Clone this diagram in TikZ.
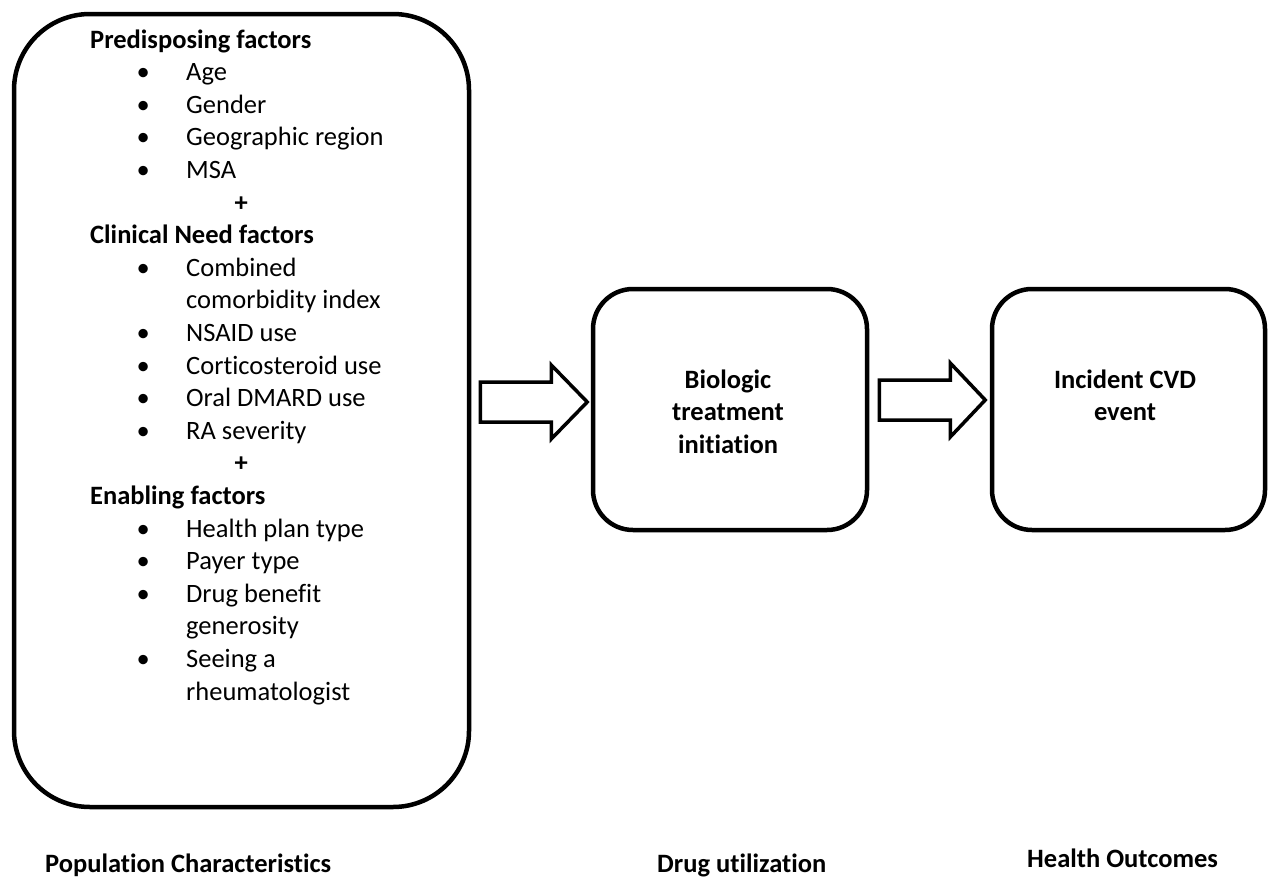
\documentclass[tikz,border=0pt]{standalone}
\usepackage{fontspec}
\setmainfont{Carlito}[Ligatures=NoCommon]

% list helpers for the factor list
\newcommand\lbul[1]{\makebox[96pt][l]{\hspace*{53pt}\makebox[0pt]{\textbullet}}#1\par}
\newcommand\lcont[1]{\hspace*{96pt}#1\par}
\newcommand\lplus{\hspace*{151pt}\makebox[0pt]{\textbf{+}}\par}

\tikzset{
  stagebox/.style={draw, line width=4.5pt, rectangle, inner sep=0pt},
  blockarrow/.style={draw, line width=3.5pt, line join=miter},
  txt/.style={inner sep=0pt, font=\fontsize{26.5}{32.6}\selectfont},
  lbl/.style={txt, font=\fontsize{26.5}{32.6}\selectfont\bfseries, anchor=base west}
}

\begin{document}
\begin{tikzpicture}[x=1pt, y=-1pt]
\useasboundingbox (0,0) rectangle (1274,878);

% stage boxes
\node[stagebox, rounded corners=76pt, minimum width=455pt, minimum height=793pt] (pop) at (241.5,410.5) {};
\node[stagebox, rounded corners=40pt, minimum width=274pt, minimum height=241pt] (drug) at (730,409.5) {};
\node[stagebox, rounded corners=40pt, minimum width=273pt, minimum height=241pt] (cvd) at (1128.5,409.5) {};

% factor list
\node[txt, anchor=base west] (factors) at (90,48) {\parbox[t]{370pt}{\raggedright
\textbf{Predisposing factors}\par
\lbul{Age}
\lbul{Gender}
\lbul{Geographic region}
\lbul{MSA}
\lplus
\textbf{Clinical Need factors}\par
\lbul{Combined}
\lcont{comorbidity index}
\lbul{NSAID use}
\lbul{Corticosteroid use}
\lbul{Oral DMARD use}
\lbul{RA severity}
\lplus
\textbf{Enabling factors}\par
\lbul{Health plan type}
\lbul{Payer type}
\lbul{Drug benefit}
\lcont{generosity}
\lbul{Seeing a}
\lcont{rheumatologist}}};

% box titles
\node[txt, anchor=base] (drugtxt) at (728,388) {\parbox[t]{260pt}{\centering\bfseries Biologic\\treatment\\initiation}};
\node[txt, anchor=base] (cvdtxt) at (1125,388) {\parbox[t]{260pt}{\centering\bfseries Incident CVD\\event}};

% block arrows between the stages
\path (pop.east) ++(9pt,8.5pt) coordinate (a1s);
\path (drug.east) ++(10pt,9.5pt) coordinate (a2s);
\draw[blockarrow] (a1s) ++(0,-20) -- ++(71,0) -- ++(0,-17) -- ++(36,37)
  -- ++(-36,37) -- ++(0,-17) -- ++(-71,0) -- cycle;
\draw[blockarrow] (a2s) ++(0,-20) -- ++(71,0) -- ++(0,-17) -- ++(35,37)
  -- ++(-35,37) -- ++(0,-17) -- ++(-71,0) -- cycle;

% stage labels
\node[lbl] (poplbl) at (45,872) {Population Characteristics};
\node[lbl] (druglbl) at (657,872) {Drug utilization};
\node[lbl] (cvdlbl) at (1027,867) {Health Outcomes};
\end{tikzpicture}
\end{document}
